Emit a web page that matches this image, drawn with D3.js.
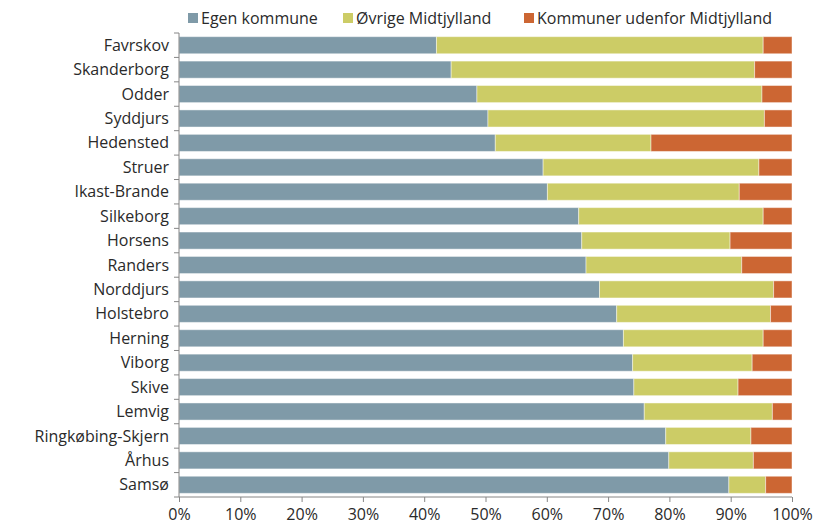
<!DOCTYPE html>
<html>
<head>
<meta charset="utf-8">
<script src="https://cdn.jsdelivr.net/npm/d3@7"></script>
<style>
  body { margin: 0; background: #fff; }
  svg text { font-family: "Open Sans", "Liberation Sans", sans-serif; fill: #2a2a2a; }
</style>
</head>
<body>
<div id="plot"></div>
<script>
// Municipalities, top to bottom
const municipalities = ['Favrskov', 'Skanderborg', 'Odder', 'Syddjurs', 'Hedensted', 'Struer',
    'Ikast-Brande', 'Silkeborg', 'Horsens', 'Randers', 'Norddjurs', 'Holstebro', 'Herning',
    'Viborg', 'Skive', 'Lemvig', 'Ringkøbing-Skjern', 'Århus', 'Samsø'];

// Shares in percent
const egenKommune = [42.0, 44.4, 48.6, 50.4, 51.6, 59.4, 60.1, 65.2, 65.7, 66.4, 68.6, 71.4, 72.5,
    74.0, 74.2, 75.9, 79.4, 79.9, 89.7];
const oevrigeMidtjylland = [53.3, 49.5, 46.5, 45.1, 25.4, 35.2, 31.3, 30.1, 24.2, 25.4, 28.4, 25.1, 22.8,
    19.5, 17.0, 20.9, 13.9, 13.8, 6.0];
const udenforMidtjylland = egenKommune.map((v, i) => 100 - v - oevrigeMidtjylland[i]);

const seriesNames = ['Egen kommune', 'Øvrige Midtjylland', 'Kommuner udenfor Midtjylland'];
const seriesColors = ['#7f9aa8', '#cccc66', '#cc6633'];
const xTicks = [0, 10, 20, 30, 40, 50, 60, 70, 80, 90, 100];

const width = 816, height = 527;
const margin = {top: 33, right: 24, bottom: 30, left: 179};

const svg = d3.select('#plot').append('svg')
    .attr('width', width)
    .attr('height', height);

const x = d3.scaleLinear().domain([0, 100]).range([margin.left, width - margin.right]);
const y = d3.scaleBand().domain(municipalities)
    .range([margin.top, height - margin.bottom])
    .paddingInner(0.3).paddingOuter(0.15);

const rows = municipalities.map((m, i) => ({
    name: m,
    values: [egenKommune[i], oevrigeMidtjylland[i], udenforMidtjylland[i]]
}));

// stacked bars
rows.forEach(row => {
    let acc = 0;
    row.values.forEach((v, k) => {
        svg.append('rect')
            .attr('x', x(acc))
            .attr('y', y(row.name))
            .attr('width', x(acc + v) - x(acc))
            .attr('height', y.bandwidth())
            .attr('fill', seriesColors[k])
            .attr('stroke', 'rgba(255,255,255,0.45)')
            .attr('stroke-width', 1);
        acc += v;
    });
});

// x axis
const axisY = height - margin.bottom;
const xAxis = svg.append('g')
    .attr('transform', `translate(0,${axisY})`)
    .call(d3.axisBottom(x).tickValues(xTicks).tickSize(5).tickFormat(d => d + '%'));
xAxis.select('.domain').attr('stroke', '#868686').attr('d', `M${x(0)},0H${x(100)}`);
xAxis.selectAll('.tick line').attr('stroke', '#868686');
xAxis.selectAll('.tick text').attr('font-size', '16px').attr('dy', '0.95em');

// y axis
const yLine = svg.append('g');
yLine.append('line')
    .attr('x1', x(0)).attr('x2', x(0))
    .attr('y1', margin.top).attr('y2', axisY)
    .attr('stroke', '#868686');
d3.range(municipalities.length + 1).forEach(i => {
    const yy = margin.top + i * (axisY - margin.top) / municipalities.length;
    yLine.append('line')
        .attr('x1', x(0) - 5).attr('x2', x(0))
        .attr('y1', yy).attr('y2', yy)
        .attr('stroke', '#868686');
});
svg.selectAll('.ylab')
    .data(municipalities)
    .enter()
    .append('text')
    .attr('x', x(0) - 10)
    .attr('y', d => y(d) + y.bandwidth() / 2)
    .attr('dy', '0.35em')
    .attr('text-anchor', 'end')
    .attr('font-size', '16px')
    .text(d => d);

// legend
const legendX = [188, 343, 524];
const legend = svg.append('g');
seriesNames.forEach((name, k) => {
    legend.append('rect')
        .attr('x', legendX[k]).attr('y', 13)
        .attr('width', 10).attr('height', 10)
        .attr('fill', seriesColors[k]);
    legend.append('text')
        .attr('x', legendX[k] + 13).attr('y', 18)
        .attr('dy', '0.35em')
        .attr('font-size', '16px')
        .text(name);
});
</script>
</body>
</html>
